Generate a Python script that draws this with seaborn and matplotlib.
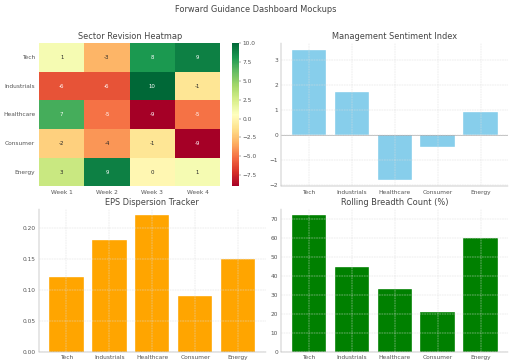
import pandas as pd
import seaborn as sns
import matplotlib.pyplot as plt

sectors = ["Tech", "Industrials", "Healthcare", "Consumer", "Energy"]
weeks = ["Week 1", "Week 2", "Week 3", "Week 4"]
revisions = [[1, -3, 8, 9],
             [-6, -6, 10, -1],
             [7, -5, -9, -5],
             [-2, -4, -1, -9],
             [3, 9, 0, 1]]
sentiment = [3.4, 1.7, -1.8, -0.5, 0.9]
eps_dispersion = [0.12, 0.18, 0.22, 0.09, 0.15]
breadth = [72, 45, 33, 21, 60]

sns.set_style("white")
plt.rcParams.update({
    "font.family": ["DejaVu Sans"],
    "font.size": 10,
    "text.color": "#444444",
    "axes.labelcolor": "#444444",
    "xtick.color": "#555555",
    "ytick.color": "#555555",
    "axes.edgecolor": "#999999",
    "axes.titlesize": 14,
    "axes.titlecolor": "#444444",
    "grid.color": "#dddddd",
    "grid.linestyle": "--",
    "grid.linewidth": 0.8,
})

df_rev = pd.DataFrame(revisions, index=sectors, columns=weeks)

fig, axes = plt.subplots(2, 2, figsize=(12, 363 / (512 / 12)), dpi=512 / 12)
fig.subplots_adjust(left=39 / 512, right=508 / 512, top=1 - 43 / 363,
                    bottom=1 - 352 / 363, wspace=0.07, hspace=0.154)
fig.suptitle("Forward Guidance Dashboard Mockups", fontsize=14, color="#444444", y=0.985)

# heatmap
ax = axes[0, 0]
sns.heatmap(df_rev, annot=True, fmt="d", cmap="RdYlGn", ax=ax,
            annot_kws={"fontsize": 9})
ax.set_title("Sector Revision Heatmap")
ax.tick_params(axis="y", rotation=0, length=3)
ax.tick_params(axis="x", length=3)
cbar = ax.collections[0].colorbar
cbar.ax.tick_params(labelsize=10, length=3)
cbar.outline.set_visible(False)


def bar_panel(ax, values, color, title):
    d = pd.DataFrame({"sector": sectors, "value": values})
    sns.barplot(data=d, x="sector", y="value", color=color, saturation=1,
                edgecolor="white", linewidth=0.6, ax=ax)
    ax.set_xlim(-0.64, 4.64)
    ax.set_title(title)
    ax.set_xlabel("")
    ax.set_ylabel("")
    ax.grid(True)
    ax.set_axisbelow(False)
    sns.despine(ax=ax)
    ax.tick_params(length=2)


bar_panel(axes[0, 1], sentiment, "skyblue", "Management Sentiment Index")
axes[0, 1].axhline(0, color="#999999", linewidth=1)
bar_panel(axes[1, 0], eps_dispersion, "orange", "EPS Dispersion Tracker")
bar_panel(axes[1, 1], breadth, "green", "Rolling Breadth Count (%)")

plt.savefig("out.png", dpi=512 / 12)
